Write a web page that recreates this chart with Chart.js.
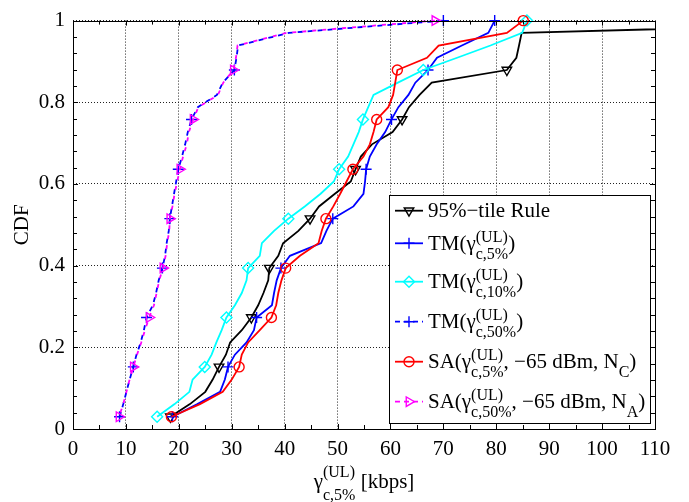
<!DOCTYPE html>
<html>
<head>
<meta charset="utf-8">
<script src="https://cdn.jsdelivr.net/npm/chart.js@4.4.0/dist/chart.umd.min.js"></script>
<style>
  html, body { margin: 0; padding: 0; background: #fff; }
  canvas { display: block; }
</style>
</head>
<body>
<canvas id="cdfChart" width="689" height="502"></canvas>
<script>
// CDF levels shared by every scheme (33 samples each)
const cdfLevels = [0.030, 0.061, 0.091, 0.121, 0.152, 0.182, 0.212, 0.242, 0.273, 0.303, 0.333,
                   0.364, 0.394, 0.424, 0.455, 0.485, 0.515, 0.545, 0.576, 0.606, 0.636, 0.667,
                   0.697, 0.727, 0.758, 0.788, 0.818, 0.848, 0.879, 0.909, 0.939, 0.970, 1.000];

// gamma_c,5% (UL) in kbps for each scheme, one value per CDF level
const rule95 = [18.4, 22.1, 25.0, 26.4, 27.6, 28.9, 29.7, 31.9, 33.7, 35.0, 36.0, 36.9, 37.1, 38.8, 39.7, 42.6, 44.8,
                46.5, 49.5, 52.5, 53.4, 54.4, 56.5, 60.4, 62.2, 63.5, 65.5, 67.8, 82.0, 83.8, 84.3, 84.8, 170];
const tm5 = [18.8, 23.5, 27.8, 28.7, 29.3, 30.6, 32.8, 34.2, 34.7, 37.6, 38.0, 38.5, 39.3, 41.0, 46.9, 47.9, 49.1,
             53.0, 54.9, 55.2, 55.4, 56.1, 57.4, 59.0, 60.2, 61.5, 63.4, 64.7, 67.1, 68.8, 73.5, 78.5, 79.7];
const tm10 = [15.9, 19.2, 22.0, 22.6, 24.9, 26.2, 27.1, 28.1, 29.0, 30.6, 31.9, 32.8, 33.1, 35.3, 35.7, 38.0, 40.7,
              43.8, 46.8, 49.3, 50.3, 52.0, 53.0, 54.0, 54.8, 55.8, 56.8, 61.4, 66.2, 72.6, 78.9, 84.9, 85.8];
const tm50 = [8.8, 9.5, 10.1, 10.7, 11.4, 12.0, 12.8, 13.4, 13.9, 15.1, 15.7, 16.2, 16.9, 17.4, 17.7, 18.1, 18.3,
              18.7, 19.1, 19.5, 19.9, 20.6, 21.2, 21.7, 22.4, 23.6, 27.2, 28.3, 30.5, 30.9, 31.2, 40.8, 70.0];
const sa5 = [18.6, 24.0, 28.3, 30.0, 31.4, 31.9, 33.1, 35.3, 37.5, 38.4, 38.8, 39.4, 40.2, 42.9, 46.4, 47.0, 47.8,
             49.2, 50.5, 51.7, 52.9, 54.9, 56.1, 56.8, 57.4, 59.6, 60.5, 60.9, 61.3, 66.9, 69.1, 82.0, 85.1];
const sa50 = [8.7, 9.5, 10.1, 10.7, 11.4, 12.1, 12.9, 13.6, 14.4, 15.3, 15.8, 16.3, 17.0, 17.5, 17.8, 18.2, 18.3,
              18.8, 19.2, 19.7, 20.2, 20.8, 21.5, 21.9, 22.7, 23.7, 27.4, 28.4, 30.3, 30.8, 31.1, 40.4, 68.4];

const seriesLabels = ['95%−tile Rule', 'TM(γc,5%)', 'TM(γc,10%)', 'TM(γc,50%)',
                      'SA(γc,5%, −65 dBm, NC)', 'SA(γc,50%, −65 dBm, NA)'];

const xTicks = [0, 10, 20, 30, 40, 50, 60, 70, 80, 90, 100, 110];
const yTicks = [0, 0.2, 0.4, 0.6, 0.8, 1];
const yTickLabels = ['0', '0.2', '0.4', '0.6', '0.8', '1'];

const serif = "'Liberation Serif', 'Times New Roman', serif";
const tickFont = { family: serif, size: 21 };

// legend labels with superscript / subscript pieces
const legendParts = [
  [{ t: '95%−tile Rule' }],
  [{ t: 'TM(γ' }, { sup: '(UL)', sub: 'c,5%' }, { t: ')' }],
  [{ t: 'TM(γ' }, { sup: '(UL)', sub: 'c,10%' }, { t: ')' }],
  [{ t: 'TM(γ' }, { sup: '(UL)', sub: 'c,50%' }, { t: ')' }],
  [{ t: 'SA(γ' }, { sup: '(UL)', sub: 'c,5%' }, { t: ', −65 dBm, N' }, { sub: 'C' }, { t: ')' }],
  [{ t: 'SA(γ' }, { sup: '(UL)', sub: 'c,50%' }, { t: ', −65 dBm, N' }, { sub: 'A' }, { t: ')' }]
];

function richText(ctx, parts, x, y, size, small, supDy, subDy, draw) {
  const x0 = x;
  parts.forEach(p => {
    if (p.t) {
      ctx.font = size + 'px ' + serif;
      if (draw) ctx.fillText(p.t, x, y);
      x += ctx.measureText(p.t).width;
    } else {
      ctx.font = small + 'px ' + serif;
      let w = 0;
      if (p.sup) {
        if (draw) ctx.fillText(p.sup, x, y + supDy);
        w = ctx.measureText(p.sup).width;
      }
      if (p.sub) {
        if (draw) ctx.fillText(p.sub, x, y + subDy);
        w = Math.max(w, ctx.measureText(p.sub).width);
      }
      x += w;
    }
  });
  return x - x0;
}

function series(label, xs, color, style, extra) {
  return Object.assign({
    label: label,
    data: xs.map((x, i) => ({ x: x, y: cdfLevels[i] })),
    borderColor: color,
    backgroundColor: color,
    borderWidth: 1.8,
    pointStyle: style,
    pointRotation: 0,
    pointRadius: c => (c.dataIndex % 4 === 0 ? 5.5 : 0),
    pointHoverRadius: 0,
    pointBorderColor: color,
    pointBackgroundColor: 'rgba(0,0,0,0)',
    pointBorderWidth: 1.4,
    tension: 0,
    fill: false,
    clip: false
  }, extra || {});
}

// blue and magenta dashes interleave on the 50% curves
const datasets = [
  series(seriesLabels[0], rule95, '#000000', 'triangle', { pointRotation: 180, clip: { left: 10, top: 10, right: 0, bottom: 10 }, order: 6 }),
  series(seriesLabels[1], tm5, '#0000ff', 'cross', { order: 5 }),
  series(seriesLabels[2], tm10, '#00ffff', 'rectRot', { order: 4 }),
  series(seriesLabels[3], tm50, '#0000ff', 'cross', { borderDash: [5, 5], order: 3 }),
  series(seriesLabels[4], sa5, '#ff0000', 'circle', { pointRadius: c => (c.dataIndex % 4 === 0 ? 5 : 0), order: 2 }),
  series(seriesLabels[5], sa50, '#ff00ff', 'triangle', { pointRotation: 90, borderDash: [4, 6], borderDashOffset: 5.5, order: 1 })
];

// box, inward ticks, axis titles and the legend
const decorations = {
  id: 'decorations',
  afterDraw(chart) {
    const ctx = chart.ctx;
    const a = chart.chartArea;
    const xs = chart.scales.x, ys = chart.scales.y;
    ctx.save();
    ctx.strokeStyle = '#000';
    ctx.lineWidth = 1;
    ctx.setLineDash([]);

    // tick marks on all four sides
    ctx.beginPath();
    for (let v = 0; v <= 110; v += 5) {
      const px = Math.round(xs.getPixelForValue(v)) + 0.5;
      const len = v % 10 === 0 ? 5 : 4;
      ctx.moveTo(px, a.bottom); ctx.lineTo(px, a.bottom - len);
      ctx.moveTo(px, a.top); ctx.lineTo(px, a.top + len);
    }
    for (let i = 0; i <= 25; i++) {
      const py = Math.round(ys.getPixelForValue(i * 0.04)) + 0.5;
      const len = i % 5 === 0 ? 5 : 4;
      ctx.moveTo(a.left, py); ctx.lineTo(a.left + len, py);
      ctx.moveTo(a.right, py); ctx.lineTo(a.right - len, py);
    }
    ctx.stroke();
    ctx.strokeRect(Math.round(a.left) + 0.5, Math.round(a.top) + 0.5,
                   Math.round(a.right - a.left), Math.round(a.bottom - a.top));

    ctx.fillStyle = '#000';
    ctx.textBaseline = 'alphabetic';
    ctx.textAlign = 'left';

    // x axis title
    const xTitle = [{ t: 'γ' }, { sup: '(UL)', sub: 'c,5%' }, { t: ' [kbps]' }];
    const tw = richText(ctx, xTitle, 0, 0, 21, 16, -11, 12, false);
    richText(ctx, xTitle, (a.left + a.right) / 2 - tw / 2, 488, 21, 16, -11, 12, true);

    // y axis title
    ctx.save();
    ctx.translate(22, (a.top + a.bottom) / 2);
    ctx.rotate(-Math.PI / 2);
    ctx.textAlign = 'center';
    ctx.textBaseline = 'middle';
    ctx.font = '21px ' + serif;
    ctx.fillText('CDF', 0, 0);
    ctx.restore();

    // legend
    const box = { left: 389.5, top: 195.5, right: 650.5, bottom: 423.5 };
    ctx.fillStyle = '#fff';
    ctx.fillRect(box.left, box.top, box.right - box.left, box.bottom - box.top);
    ctx.strokeStyle = '#000';
    ctx.lineWidth = 1;
    ctx.strokeRect(box.left, box.top, box.right - box.left, box.bottom - box.top);
    const rows = [210.7, 243.3, 281.7, 321.7, 361.7, 401.7];
    chart.data.datasets.forEach((ds, i) => {
      const y = rows[i];
      ctx.strokeStyle = ds.borderColor;
      ctx.lineWidth = ds.borderWidth;
      ctx.setLineDash(ds.borderDash ? [5, 4] : []);
      ctx.beginPath();
      ctx.moveTo(395, y); ctx.lineTo(423, y);
      ctx.stroke();
      ctx.setLineDash([]);
      ctx.fillStyle = 'rgba(0,0,0,0)';
      ctx.lineWidth = ds.pointBorderWidth;
      Chart.helpers.drawPoint(ctx, {
        pointStyle: ds.pointStyle, rotation: ds.pointRotation,
        radius: ds.pointStyle === 'circle' ? 5 : 5.5, borderWidth: ds.pointBorderWidth
      }, 409, y);
      ctx.fillStyle = '#000';
      richText(ctx, legendParts[i], 428, y + 6.5, 21, 16, -8, 9, true);
    });
    ctx.restore();
  }
};

new Chart(document.getElementById('cdfChart'), {
  type: 'line',
  data: { datasets: datasets },
  options: {
    responsive: false,
    animation: false,
    events: [],
    layout: { padding: { top: 13, right: 34, left: 0, bottom: 0 } },
    plugins: { legend: { display: false }, tooltip: { enabled: false } },
    scales: {
      x: {
        type: 'linear', min: 0, max: 110,
        afterBuildTicks: s => { s.ticks = xTicks.map(v => ({ value: v })); },
        afterFit: s => { s.height = 73; },
        ticks: { color: '#000', font: tickFont, padding: 8, maxRotation: 0, autoSkip: false },
        grid: { color: '#222', lineWidth: 1, drawTicks: false },
        border: { display: false, dash: [1, 2] }
      },
      y: {
        type: 'linear', min: 0, max: 1,
        afterBuildTicks: s => { s.ticks = yTicks.map(v => ({ value: v })); },
        afterFit: s => { s.width = 73; },
        ticks: {
          color: '#000', font: tickFont, padding: 8, autoSkip: false,
          callback: (v, i) => yTickLabels[i]
        },
        grid: { color: '#222', lineWidth: 1, drawTicks: false },
        border: { display: false, dash: [1, 2] }
      }
    }
  },
  plugins: [decorations]
});
</script>
</body>
</html>
